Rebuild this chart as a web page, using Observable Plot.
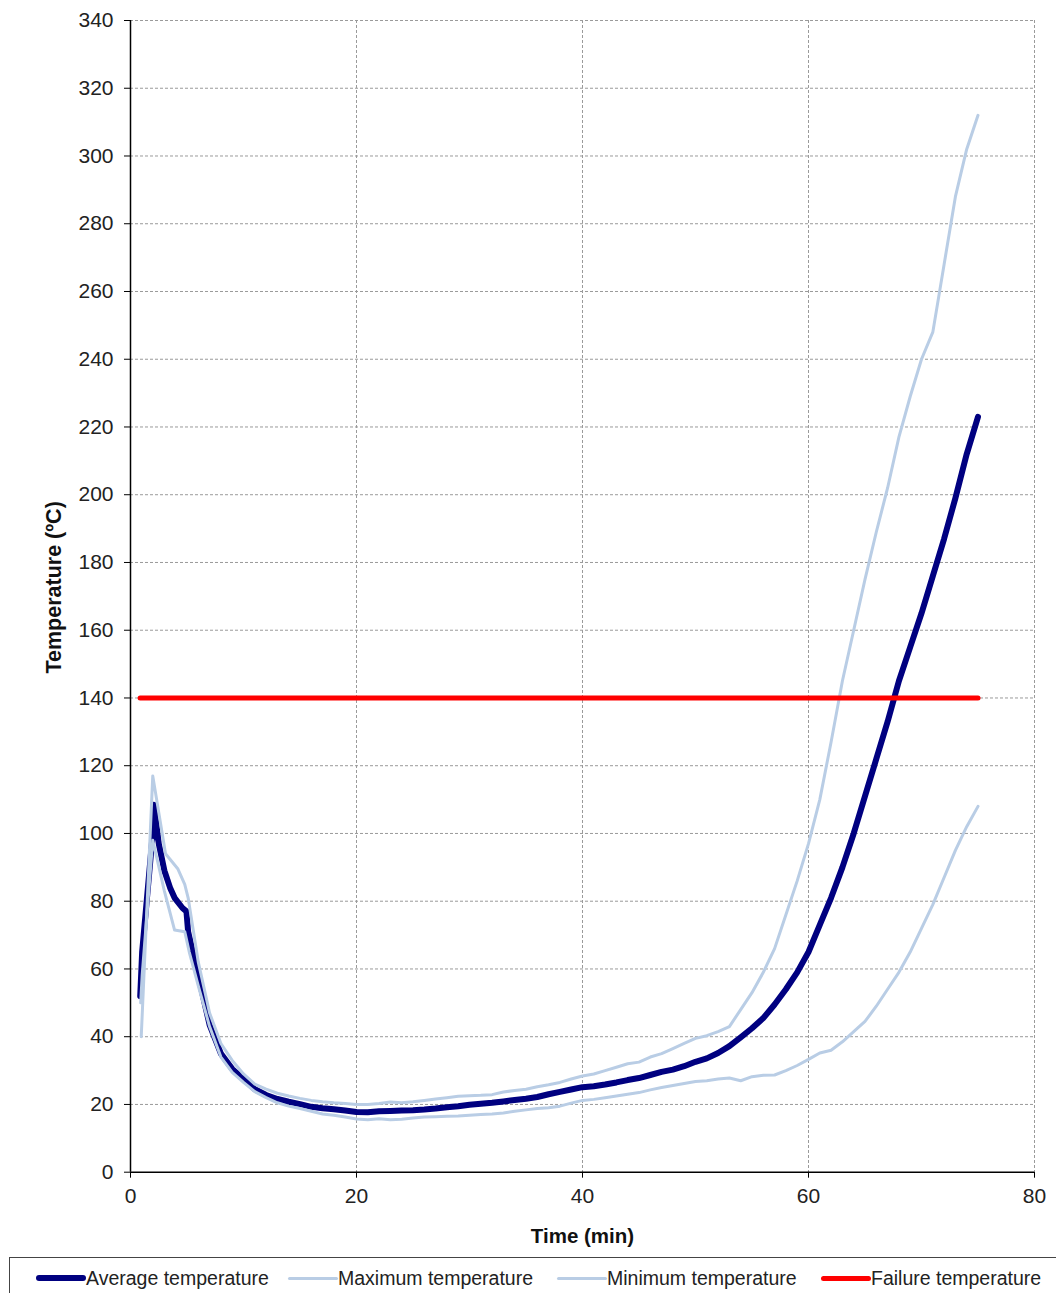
<!DOCTYPE html>
<html>
<head>
<meta charset="utf-8">
<script src="https://cdn.jsdelivr.net/npm/d3@7"></script>
<script src="https://cdn.jsdelivr.net/npm/@observablehq/plot@0.6"></script>
<style>
  html, body { margin: 0; padding: 0; background: #fff; }
  #wrap { position: relative; width: 1056px; height: 1293px; overflow: hidden; font-family: "Liberation Sans", Arial, sans-serif; }
  #legend { position: absolute; left: 9px; top: 1257px; width: 1080px; height: 44px; border: 1.5px solid #444; box-sizing: border-box; }
  .item { position: absolute; top: 0; height: 40px; display: flex; align-items: center; font-size: 19.5px; color: #222; white-space: nowrap; }
  .swatch { display: inline-block; border-radius: 3px; margin-right: 0; }
</style>
</head>
<body>
<div id="wrap">
  <div id="chart"></div>
  <div id="legend"></div>
</div>
<script>
// Average temperature (min, °C)
const avgTime = [0.86, 1.03, 1.97, 2.07, 2.5, 3, 3.5, 3.9, 4.6, 4.95, 5.1, 6, 7, 8, 9, 10, 11, 12, 13, 14, 15, 16, 17, 18, 19, 20, 21, 22, 23, 24, 25, 26, 27, 28, 29, 30, 31, 32, 33, 34, 35, 36, 37, 38, 39, 40, 41, 42, 43, 44, 45, 46, 47, 48, 49, 50, 51, 52, 53, 54, 55, 56, 57, 58, 59, 60, 61, 62, 63, 64, 65, 66, 67, 68, 69, 70, 71, 72, 73, 74, 75];
const avgTemp = [52, 65, 100, 108.5, 97, 89, 84, 81, 78, 77, 71, 58, 43.5, 35, 30.5, 27.5, 24.5, 22.8, 21.6, 20.8, 20.1, 19.3, 18.9, 18.6, 18.2, 17.8, 17.7, 18, 18.1, 18.2, 18.3, 18.5, 18.8, 19.2, 19.5, 19.9, 20.2, 20.5, 20.9, 21.3, 21.7, 22.2, 23, 23.7, 24.4, 25.1, 25.4, 25.9, 26.5, 27.2, 27.8, 28.7, 29.6, 30.3, 31.3, 32.6, 33.6, 35.2, 37.2, 39.8, 42.5, 45.5, 49.5, 54, 59, 65, 73, 81, 90, 100, 111, 122, 133, 145, 155, 165, 176, 187, 199, 212, 223];

// Maximum temperature
const maxTime = [0.95, 1.97, 3.1, 4.2, 4.8, 5.1, 6, 7, 8, 9, 10, 11, 12, 13, 14, 15, 16, 17, 18, 19, 20, 21, 22, 23, 24, 25, 26, 27, 28, 29, 30, 31, 32, 33, 34, 35, 36, 37, 38, 39, 40, 41, 42, 43, 44, 45, 46, 47, 48, 49, 50, 51, 52, 53, 54, 55, 56, 57, 58, 59, 60, 61, 62, 63, 64, 65, 66, 67, 68, 69, 70, 71, 72, 73, 74, 75];
const maxTemp = [40, 117, 94, 89.5, 85, 81, 62, 47, 38, 33, 29, 26, 24.5, 23.3, 22.5, 21.8, 21.2, 20.8, 20.5, 20.3, 20, 20, 20.3, 20.7, 20.5, 20.8, 21.2, 21.6, 22, 22.4, 22.6, 22.7, 22.9, 23.7, 24.1, 24.5, 25.2, 25.8, 26.5, 27.5, 28.4, 29, 30, 31, 32, 32.5, 34, 35, 36.5, 38, 39.5, 40.3, 41.5, 43, 48, 53, 59, 66, 76, 86, 97, 110, 127, 145, 160, 175, 189, 202, 217, 229, 240, 248, 268, 288, 302, 312];

// Minimum temperature
const minTime = [0.9, 1.03, 1.97, 3, 3.9, 4.8, 5.2, 6, 7, 8, 9, 10, 11, 12, 13, 14, 15, 16, 17, 18, 19, 20, 21, 22, 23, 24, 25, 26, 27, 28, 29, 30, 31, 32, 33, 34, 35, 36, 37, 38, 39, 40, 41, 42, 43, 44, 45, 46, 47, 48, 49, 50, 51, 52, 53, 54, 55, 56, 57, 58, 59, 60, 61, 62, 63, 64, 65, 66, 67, 68, 69, 70, 71, 72, 73, 74, 75];
const minTemp = [50, 58, 98, 83, 71.5, 71, 65, 55, 43, 34, 29.5, 26.5, 23.8, 22, 20.5, 19.5, 18.8, 18, 17.2, 16.8, 16.3, 15.7, 15.5, 15.8, 15.5, 15.6, 16, 16.3, 16.4, 16.5, 16.6, 16.8, 17, 17.2, 17.5, 18, 18.4, 18.8, 19, 19.5, 20.4, 21.2, 21.5, 22, 22.5, 23, 23.5, 24.3, 25, 25.6, 26.2, 26.8, 27, 27.5, 27.8, 27, 28.2, 28.6, 28.7, 30, 31.5, 33.3, 35.2, 36, 38.5, 41.5, 44.5, 49, 54, 59, 65, 72, 79, 87, 95, 102, 108];

// Failure temperature threshold
const failureTime = [0.85, 75];
const failureTemp = [140, 140];

// Axis ticks
const xTicks = [0, 20, 40, 60, 80];
const yTicks = d3.range(0, 341, 20);

const seriesNames = ["Average temperature", "Maximum temperature", "Minimum temperature", "Failure temperature"];
const seriesColors = ["#000080", "#b9cde5", "#b9cde5", "#ff0000"];
const seriesWidths = [6, 3, 3, 5];

const toRows = (times, temps) => times.map((t, i) => ({time: t, temp: temps[i]}));
const seriesRows = [
  toRows(avgTime, avgTemp),
  toRows(maxTime, maxTemp),
  toRows(minTime, minTemp),
  toRows(failureTime, failureTemp)
];

const gridStyle = {stroke: "#9a9a9a", strokeOpacity: 1, strokeWidth: 1, strokeDasharray: "3,2"};

const chart = Plot.plot({
  width: 1056,
  height: 1257,
  marginLeft: 130,
  marginRight: 22,
  marginTop: 20,
  marginBottom: 85.3,
  style: {fontFamily: "'Liberation Sans', Arial, sans-serif", background: "#fff", color: "#222"},
  x: {domain: [0, 80]},
  y: {domain: [0, 340]},
  marks: [
    Plot.gridY(yTicks.filter(d => d > 0), gridStyle),
    Plot.gridX(xTicks.filter(d => d > 0), gridStyle),
    Plot.axisY(yTicks, {tickSize: 6, tickPadding: 11, fontSize: 21, label: null, stroke: "#000"}),
    Plot.axisX(xTicks, {tickSize: 6, tickPadding: 10, fontSize: 21, label: null, stroke: "#000"}),
    Plot.ruleX([0], {stroke: "#000", strokeWidth: 1.5}),
    Plot.ruleY([0], {stroke: "#000", strokeWidth: 1.5}),
    ...seriesRows.map((rows, i) => Plot.line(rows, {
      x: "time", y: "temp",
      stroke: seriesColors[i], strokeWidth: seriesWidths[i],
      strokeLinejoin: "round", strokeLinecap: "round"
    })),
    Plot.text(["Time (min)"], {frameAnchor: "bottom", textAnchor: "middle", dy: 71, fontSize: 20.5, fontWeight: "bold", fill: "#111", ariaLabel: "x title"}),
    Plot.text(["Temperature (ºC)"], {frameAnchor: "left", textAnchor: "middle", dx: -76, dy: -9, rotate: -90, fontSize: 21.5, fontWeight: "bold", fill: "#111", ariaLabel: "y title"})
  ]
});
d3.select(chart).selectAll('g[aria-label="y title"] text').style("letter-spacing", "1.3px");
document.getElementById("chart").appendChild(chart);

// Legend row
const legendLeft = [26, 278, 547, 811];
const legend = document.getElementById("legend");
seriesNames.forEach((name, i) => {
  const item = document.createElement("div");
  item.className = "item";
  item.style.left = legendLeft[i] + "px";
  const sw = document.createElement("span");
  sw.className = "swatch";
  sw.style.width = "50px";
  sw.style.height = seriesWidths[i] + "px";
  sw.style.background = seriesColors[i];
  item.appendChild(sw);
  const label = document.createElement("span");
  label.textContent = name;
  item.appendChild(label);
  legend.appendChild(item);
});
</script>
</body>
</html>
